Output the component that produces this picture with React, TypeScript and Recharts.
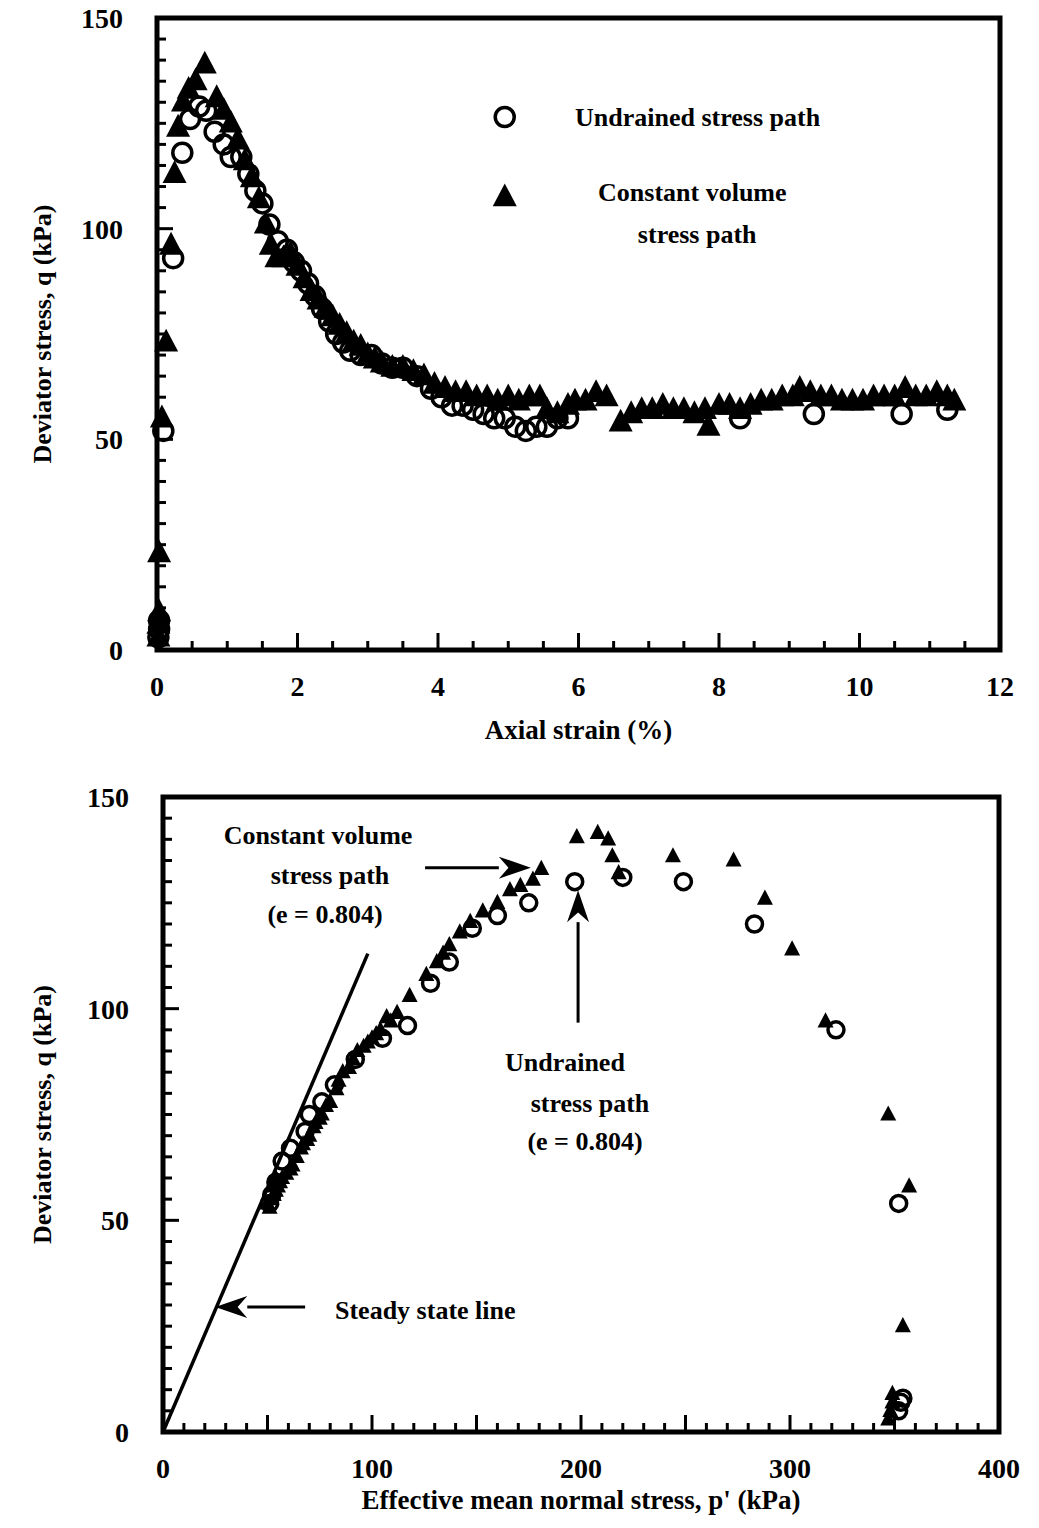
import React from 'react';
import { ScatterChart, Scatter, XAxis, YAxis, ReferenceArea, ReferenceLine, ReferenceDot } from 'recharts';

const FONT = "'Liberation Serif', 'Times New Roman', serif";

// ---- top panel: q vs axial strain ----
const strainLabels = [0, 2, 4, 6, 8, 10, 12];
const qLabels = [0, 50, 100, 150];

// constant volume (filled triangles): [axial strain %, q kPa]
const cvStrain: [number, number][] = [
  [0.02, 3], [0.02, 6], [0.03, 9], [0.03, 23], [0.07, 55], [0.13, 73], [0.2, 96], [0.25, 113], [0.3, 124],
  [0.37, 130], [0.45, 133], [0.55, 135], [0.68, 139], [0.85, 131], [0.95, 128], [1.05, 125], [1.15, 121],
  [1.25, 116], [1.35, 112], [1.45, 107], [1.55, 101], [1.62, 96], [1.7, 93], [1.8, 93], [1.9, 94], [2.0, 91],
  [2.1, 88], [2.2, 85], [2.3, 83], [2.4, 81], [2.5, 79], [2.6, 77], [2.7, 75], [2.8, 73], [2.9, 72], [3.0, 70],
  [3.1, 69], [3.2, 68], [3.35, 67], [3.5, 67], [3.65, 66], [3.8, 65], [3.95, 63], [4.1, 62], [4.25, 61],
  [4.4, 61], [4.55, 60], [4.7, 60], [4.85, 59], [5.0, 60], [5.15, 59], [5.3, 60], [5.45, 60], [5.55, 57],
  [5.7, 56], [5.85, 58], [5.95, 59], [6.1, 59], [6.25, 61], [6.4, 60], [6.6, 54], [6.75, 56], [6.9, 57],
  [7.05, 57], [7.2, 58], [7.35, 57], [7.5, 57], [7.65, 56], [7.8, 57], [7.85, 53], [8.0, 58], [8.15, 58],
  [8.3, 57], [8.45, 58], [8.6, 59], [8.75, 59], [8.9, 60], [9.05, 60], [9.15, 62], [9.3, 61], [9.45, 60],
  [9.6, 60], [9.75, 59], [9.9, 59], [10.05, 59], [10.2, 60], [10.35, 60], [10.5, 60], [10.65, 62], [10.8, 60],
  [10.95, 60], [11.1, 61], [11.25, 60], [11.35, 59],
];

// undrained (open circles): [axial strain %, q kPa]
const udStrain: [number, number][] = [
  [0.02, 3], [0.03, 5], [0.03, 7], [0.09, 52], [0.23, 93], [0.36, 118], [0.47, 126], [0.6, 129], [0.7, 128],
  [0.82, 123], [0.95, 120], [1.05, 117], [1.2, 117], [1.3, 113], [1.4, 109], [1.5, 106], [1.6, 101],
  [1.72, 97], [1.85, 95], [1.95, 92], [2.05, 90], [2.15, 87], [2.25, 84], [2.35, 81], [2.45, 78], [2.55, 75],
  [2.65, 73], [2.75, 71], [2.9, 70], [3.05, 70], [3.2, 68], [3.35, 67], [3.5, 67], [3.7, 65], [3.9, 62],
  [4.05, 60], [4.2, 58], [4.35, 58], [4.5, 57], [4.65, 56], [4.8, 55], [4.95, 55], [5.1, 53], [5.25, 52],
  [5.4, 53], [5.55, 53], [5.7, 55], [5.85, 55], [8.3, 55], [9.35, 56], [10.6, 56], [11.25, 57],
];

// ---- bottom panel: q vs p' ----
const pLabels = [0, 100, 200, 300, 400];

const cvPath: [number, number][] = [
  [347, 3], [348, 5], [349, 7], [349, 9], [354, 25], [357, 58], [347, 75], [317, 97], [301, 114], [288, 126],
  [273, 135], [244, 136], [218, 132], [215, 136], [213, 140], [208, 141.5], [198, 140.5], [181, 133],
  [177, 130.5], [171, 129], [166, 128], [160, 125], [153, 123], [147, 120.5], [142, 118], [137, 115],
  [134, 113], [131, 111], [126, 108], [118, 103], [112, 99], [109, 97], [107, 98], [104, 95], [102, 94],
  [100, 93], [98, 92], [96, 91], [93, 90], [91, 88], [89, 86], [86, 85], [84, 83], [83, 81], [80, 78],
  [78, 77], [76, 75], [75, 74], [73, 73], [72, 72], [70, 70], [69, 69], [67, 68], [66, 67], [64, 65],
  [62, 63], [61, 62], [59, 61], [57, 60], [56, 59], [55, 58], [54, 57], [53, 56], [52, 55], [51, 53],
  [50, 54], [52, 58], [54, 60],
];

const udPath: [number, number][] = [
  [352, 5], [353, 7], [354, 8], [352, 54], [322, 95], [283, 120], [249, 130], [220, 131], [197, 130],
  [175, 125], [160, 122], [148, 119], [137, 111], [128, 106], [117, 96], [105, 93], [92, 88], [82, 82],
  [76, 78], [70, 75], [68, 71], [61, 67], [57, 64], [54, 59], [52, 56], [51, 54],
];

// steady state line through the origin
const sslP = [0, 98];
const sslQ = [0, 113];

const toXY = (arr: [number, number][]) => arr.map(([x, y]) => ({ x, y }));
const steps = (from: number, to: number, step: number) => {
  const out: number[] = [];
  for (let v = from; v <= to + 1e-9; v += step) out.push(Math.round(v * 100) / 100);
  return out;
};
const near = (list: number[], v: number) => list.some((m) => Math.abs(m - v) < 1e-6);

const textStyle = { fontFamily: FONT, fontWeight: 'bold' as const, fill: '#000' };

const makeXTick = (majors: number[], labels: number[]) => (props: any) => {
  const { x, y, payload } = props;
  const v = payload.value;
  const big = near(majors, v);
  return (
    <g>
      <line x1={x} y1={y} x2={x} y2={y - (big ? 17 : 9)} stroke="#000" strokeWidth={3} />
      {near(labels, v) && (
        <text x={x} y={y + 46} textAnchor="middle" fontSize={28} {...textStyle}>{v}</text>
      )}
    </g>
  );
};

const makeYTick = (majors: number[], labels: number[]) => (props: any) => {
  const { x, y, payload } = props;
  const v = payload.value;
  const big = near(majors, v);
  return (
    <g>
      <line x1={x} y1={y} x2={x + (big ? 16 : 9)} y2={y} stroke="#000" strokeWidth={3} />
      {near(labels, v) && (
        <text x={x - 34} y={y + 10} textAnchor="end" fontSize={28} {...textStyle}>{v}</text>
      )}
    </g>
  );
};

const triangle = (w: number) => (p: any) => {
  const { cx, cy } = p;
  const h = w * 0.95;
  return <path d={`M${cx},${cy - h * 0.6}L${cx + w / 2},${cy + h * 0.4}L${cx - w / 2},${cy + h * 0.4}Z`} fill="#000" />;
};
const ring = (r: number, sw: number) => (p: any) => (
  <circle cx={p.cx} cy={p.cy} r={r} fill="none" stroke="#000" strokeWidth={sw} />
);

const note = (text: string, anchor: 'start' | 'middle' = 'middle') => (p: any) => (
  <text x={p.cx} y={p.cy} textAnchor={anchor} dominantBaseline="central" fontSize={26} {...textStyle}>{text}</text>
);

const arrow = (p: any) => {
  const { x1, y1, x2, y2 } = p;
  const a = Math.atan2(y2 - y1, x2 - x1);
  const L = 32, W = 11;
  const bx = x2 - L * Math.cos(a), by = y2 - L * Math.sin(a);
  const nx = -Math.sin(a) * W, ny = Math.cos(a) * W;
  return (
    <g>
      <line x1={x1} y1={y1} x2={bx} y2={by} stroke="#000" strokeWidth={3} />
      <path d={`M${x2},${y2}L${bx + nx},${by + ny}L${bx + 0.3 * L * Math.cos(a)},${by + 0.3 * L * Math.sin(a)}L${bx - nx},${by - ny}Z`} fill="#000" />
    </g>
  );
};

const yTitle = {
  value: 'Deviator stress, q (kPa)',
  angle: -90,
  position: 'insideLeft' as const,
  offset: 42,
  style: { textAnchor: 'middle', fontFamily: FONT, fontWeight: 'bold', fontSize: 26, fill: '#000' },
};

export default function App() {
  return (
    <div style={{ position: 'absolute', left: 0, top: 0, width: 1039, height: 1528, background: '#fff' }}>
      <ScatterChart width={1039} height={760} margin={{ top: 18, right: 39, left: 0, bottom: 50 }}>
        <XAxis
          type="number" dataKey="x" domain={[0, 12]} ticks={steps(0, 12, 0.5)} interval={0}
          axisLine={false} tickLine={false} tickSize={0} tickMargin={0} height={60}
          tick={makeXTick(strainLabels, strainLabels)}
          label={{ value: 'Axial strain (%)', position: 'bottom', offset: 10, style: { fontFamily: FONT, fontWeight: 'bold', fontSize: 27, fill: '#000' } }}
        />
        <YAxis
          type="number" dataKey="y" domain={[0, 150]} ticks={steps(0, 150, 5)} interval={0}
          axisLine={false} tickLine={false} tickSize={0} tickMargin={0} width={157}
          tick={makeYTick(qLabels, qLabels)} label={yTitle}
        />
        <ReferenceArea x1={0} x2={12} y1={0} y2={150} fill="none" stroke="#000" strokeWidth={5} />
        <Scatter data={toXY(cvStrain)} shape={triangle(24)} isAnimationActive={false} />
        <Scatter data={toXY(udStrain)} shape={ring(9.5, 3.5)} isAnimationActive={false} />
        <ReferenceDot x={4.95} y={126.5} r={0} shape={ring(9.5, 3.5)} />
        <ReferenceDot x={5.95} y={126.5} r={0} shape={note('Undrained stress path', 'start')} />
        <ReferenceDot x={4.95} y={107.5} r={0} shape={triangle(24)} />
        <ReferenceDot x={7.62} y={108.5} r={0} shape={note('Constant volume')} />
        <ReferenceDot x={7.69} y={98.5} r={0} shape={note('stress path')} />
      </ScatterChart>
      <ScatterChart width={1039} height={768} margin={{ top: 37, right: 40, left: 0, bottom: 36 }}>
        <XAxis
          type="number" dataKey="x" domain={[0, 400]} ticks={steps(0, 400, 10)} interval={0}
          axisLine={false} tickLine={false} tickSize={0} tickMargin={0} height={60}
          tick={makeXTick(steps(0, 400, 50), pLabels)}
          label={{ value: "Effective mean normal stress, p' (kPa)", position: 'bottom', offset: -2, style: { fontFamily: FONT, fontWeight: 'bold', fontSize: 27, fill: '#000' } }}
        />
        <YAxis
          type="number" dataKey="y" domain={[0, 150]} ticks={steps(0, 150, 5)} interval={0}
          axisLine={false} tickLine={false} tickSize={0} tickMargin={0} width={163}
          tick={makeYTick(qLabels, qLabels)} label={yTitle}
        />
        <ReferenceArea x1={0} x2={400} y1={0} y2={150} fill="none" stroke="#000" strokeWidth={5} />
        <ReferenceLine segment={[{ x: sslP[0], y: sslQ[0] }, { x: sslP[1], y: sslQ[1] }]} stroke="#000" strokeWidth={3.5} />
        <Scatter data={toXY(cvPath)} shape={triangle(16)} isAnimationActive={false} />
        <Scatter data={toXY(udPath)} shape={ring(8, 3.5)} isAnimationActive={false} />
        <ReferenceLine segment={[{ x: 125.4, y: 133.3 }, { x: 176, y: 133.3 }]} shape={arrow} />
        <ReferenceLine segment={[{ x: 198.6, y: 96.7 }, { x: 198.6, y: 128 }]} shape={arrow} />
        <ReferenceLine segment={[{ x: 68, y: 29.5 }, { x: 25, y: 29.5 }]} shape={arrow} />
        <ReferenceDot x={74.2} y={140.9} r={0} shape={note('Constant volume')} />
        <ReferenceDot x={79.9} y={131.4} r={0} shape={note('stress path')} />
        <ReferenceDot x={77.5} y={122.2} r={0} shape={note('(e = 0.804)')} />
        <ReferenceDot x={192.3} y={87.2} r={0} shape={note('Undrained')} />
        <ReferenceDot x={204.3} y={77.5} r={0} shape={note('stress path')} />
        <ReferenceDot x={201.9} y={68.6} r={0} shape={note('(e = 0.804)')} />
        <ReferenceDot x={82.3} y={28.8} r={0} shape={note('Steady state line', 'start')} />
      </ScatterChart>
    </div>
  );
}
